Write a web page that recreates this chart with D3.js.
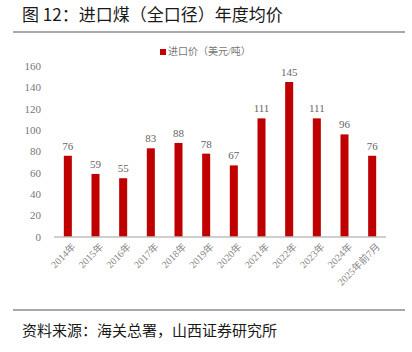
<!DOCTYPE html>
<html>
<head>
<meta charset="utf-8">
<script src="https://cdn.jsdelivr.net/npm/d3@7"></script>
<style>
body { margin: 0; background: #fff; }
svg { display: block; }
</style>
</head>
<body>
<svg id="chart" width="412" height="352"></svg>
<script>
const years = ['2014年', '2015年', '2016年', '2017年', '2018年', '2019年', '2020年',
    '2021年', '2022年', '2023年', '2024年', '2025年前7月']
const prices = [76, 59, 55, 83, 88, 78, 67, 111, 145, 111, 96, 76]
const yTicks = [0, 20, 40, 60, 80, 100, 120, 140, 160]

const svg = d3.select('#chart')
const serif = '"Liberation Serif", "Noto Sans CJK SC", serif'
const cjk = '"Noto Sans CJK SC", sans-serif'

// title + rules
svg.append('text')
    .attr('x', 22).attr('y', 21)
    .attr('font-family', cjk).attr('font-size', 17)
    .attr('fill', '#1a1a1a')
    .text('图 12：进口煤（全口径）年度均价')
svg.append('line')
    .attr('x1', 13).attr('x2', 405).attr('y1', 32).attr('y2', 32)
    .attr('stroke', '#555').attr('stroke-width', 1.2)
svg.append('line')
    .attr('x1', 13).attr('x2', 405).attr('y1', 310).attr('y2', 310)
    .attr('stroke', '#555').attr('stroke-width', 1.2)
svg.append('text')
    .attr('x', 22).attr('y', 336)
    .attr('font-family', cjk).attr('font-size', 15)
    .attr('fill', '#1a1a1a')
    .text('资料来源：海关总署，山西证券研究所')

// legend
const legend = svg.append('g').attr('transform', 'translate(160, 55)')
legend.append('rect')
    .attr('x', 0).attr('y', -6).attr('width', 6).attr('height', 6)
    .attr('fill', '#C00000')
legend.append('text')
    .attr('x', 8).attr('y', 0)
    .attr('font-family', serif).attr('font-size', 10)
    .attr('fill', '#777')
    .text('进口价（美元/吨）')

const x = d3.scaleBand()
    .domain(years)
    .range([54, 386])
    .paddingInner(0.71)
    .paddingOuter(0.355)

const y = d3.scaleLinear()
    .domain([0, 160])
    .range([237, 66])

// y axis labels
svg.append('g')
    .selectAll('text')
    .data(yTicks)
    .join('text')
    .attr('x', 41)
    .attr('y', d => y(d))
    .attr('dy', '0.35em')
    .attr('text-anchor', 'end')
    .attr('font-family', serif).attr('font-size', 11)
    .attr('fill', '#777')
    .text(d => d)

// bars
svg.append('g')
    .selectAll('rect')
    .data(prices)
    .join('rect')
    .attr('x', (d, i) => x(years[i]))
    .attr('y', d => y(d))
    .attr('width', x.bandwidth())
    .attr('height', d => y(0) - y(d))
    .attr('fill', '#C00000')

// value labels
svg.append('g')
    .selectAll('text')
    .data(prices)
    .join('text')
    .attr('x', (d, i) => x(years[i]) + x.bandwidth() / 2)
    .attr('y', d => y(d) - 6)
    .attr('text-anchor', 'middle')
    .attr('font-family', serif).attr('font-size', 11)
    .attr('fill', '#666')
    .text(d => d)

// zero line
svg.append('line')
    .attr('x1', 54).attr('x2', 386)
    .attr('y1', y(0)).attr('y2', y(0))
    .attr('stroke', '#BFBFBF').attr('stroke-width', 1.5)

// x labels, rotated
svg.append('g')
    .selectAll('text')
    .data(years)
    .join('text')
    .attr('transform', d => `translate(${x(d) + x.bandwidth() / 2 + 6}, ${y(0) + 8}) rotate(-45)`)
    .attr('text-anchor', 'end')
    .attr('dy', '0.35em')
    .attr('font-family', serif).attr('font-size', 10)
    .attr('fill', '#888')
    .text(d => d)
</script>
</body>
</html>
